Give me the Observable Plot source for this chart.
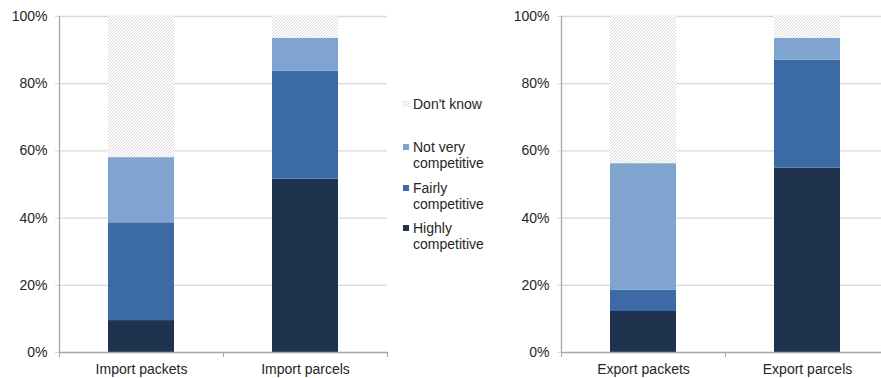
<!DOCTYPE html>
<html>
<head>
<meta charset="utf-8">
<script src="https://cdn.jsdelivr.net/npm/d3@7"></script>
<script src="https://cdn.jsdelivr.net/npm/@observablehq/plot@0.6"></script>
<style>
  html, body { margin: 0; padding: 0; background: #fff; }
  #chart { position: relative; width: 881px; height: 378px; overflow: hidden;
           font-family: "Liberation Sans", Arial, sans-serif; color: #262626; }
  .panel { position: absolute; top: 0; width: 400px; height: 378px; }
  .panel svg { max-width: none !important; display: block; }
  #legend { position: absolute; left: 403px; top: 0; font-size: 14px; line-height: 16px; }
  .item { position: absolute; left: 0; white-space: nowrap; }
  .sw { position: absolute; left: 0; top: 5px; width: 6px; height: 6px; }
  .lbl { position: absolute; left: 10px; top: 0; }
</style>
</head>
<body>
<div id="chart">
  <div id="left" class="panel" style="left:0px"></div>
  <div id="right" class="panel" style="left:502px"></div>
  <div id="legend"></div>
</div>
<script>
// Response levels, stacked bottom to top
const levels = ["Highly competitive", "Fairly competitive", "Not very competitive", "Don't know"];
const levelColors = ["#1f334f", "#3c6aa5", "#7fa4d0"];

// Import panel (shares in %, same order as levels)
const importCategories = ["Import packets", "Import parcels"];
const importPackets = [9.5, 29.1, 19.4, 42.0];
const importParcels = [51.6, 32.1, 9.8, 6.5];

// Export panel
const exportCategories = ["Export packets", "Export parcels"];
const exportPackets = [12.2, 6.3, 37.7, 43.8];
const exportParcels = [54.9, 32.1, 6.5, 6.5];

const yTicks = [0, 0.2, 0.4, 0.6, 0.8, 1];
const gridColor = "#d9d9d9";
const axisColor = "#a6a6a6";
const hatchColor = "#d2d2d2";

function panel(categories, series, patternId) {
  const rows = [];
  categories.forEach((cat, i) => {
    series[i].forEach((v, j) => rows.push({cat, level: levels[j], share: v / 100}));
  });

  // category separator ticks below the baseline
  const bandTicks = (index, scales, values, dims) => {
    const g = d3.create("svg:g").attr("stroke", axisColor);
    const {width, height, marginLeft, marginRight, marginBottom} = dims;
    const y0 = height - marginBottom;
    const step = (width - marginLeft - marginRight) / categories.length;
    for (let i = 0; i <= categories.length; ++i) {
      const x = marginLeft + i * step + 0.5;
      g.append("line").attr("x1", x).attr("x2", x).attr("y1", y0).attr("y2", y0 + 5);
    }
    return g.node();
  };

  const svg = Plot.plot({
    width: 400,
    height: 378,
    marginLeft: 59,
    marginRight: 13,
    marginTop: 16,
    marginBottom: 26,
    style: {fontFamily: "'Liberation Sans', Arial, sans-serif", fontSize: "14px", color: "#262626", background: "transparent"},
    x: {domain: categories, paddingInner: 0.6, paddingOuter: 0.3, label: null},
    y: {domain: [0, 1], label: null},
    color: {domain: levels, range: [...levelColors, `url(#${patternId})`]},
    marks: [
      Plot.ruleY(yTicks.slice(1), {stroke: gridColor, strokeWidth: 1.3}),
      Plot.barY(rows, {x: "cat", y: "share", fill: "level"}),
      Plot.ruleY([0], {stroke: axisColor, strokeWidth: 1.3}),
      Plot.frame({anchor: "left", stroke: axisColor, strokeWidth: 1.3}),
      bandTicks,
      Plot.axisY({ticks: yTicks, tickFormat: d3.format(".0%"), tickSize: 4, tickPadding: 8, stroke: gridColor, fill: "#262626"}),
      Plot.axisX({tickSize: 0, tickPadding: 12, fill: "#262626"})
    ]
  });

  // fine diagonal hatch used for "Don't know"
  const defs = d3.select(svg).insert("defs", ":first-child");
  const pat = defs.append("pattern")
    .attr("id", patternId)
    .attr("patternUnits", "userSpaceOnUse")
    .attr("width", 3).attr("height", 3);
  pat.append("rect").attr("width", 3).attr("height", 3).attr("fill", "#fff");
  pat.append("path")
    .attr("d", "M-1,1 l2,-2 M0,3 l3,-3 M2,4 l2,-2")
    .attr("stroke", hatchColor).attr("stroke-width", 0.9);
  return svg;
}

document.getElementById("left").append(panel(importCategories, [importPackets, importParcels], "hatch-import"));
document.getElementById("right").append(panel(exportCategories, [exportPackets, exportParcels], "hatch-export"));

// Legend, top entry is the top of the stack
const legendItems = [
  {level: "Don't know", lines: ["Don't know"], top: 96},
  {level: "Not very competitive", lines: ["Not very", "competitive"], top: 139},
  {level: "Fairly competitive", lines: ["Fairly", "competitive"], top: 180},
  {level: "Highly competitive", lines: ["Highly", "competitive"], top: 220}
];
const legend = d3.select("#legend");
legendItems.forEach(d => {
  const item = legend.append("div").attr("class", "item").style("top", d.top + "px");
  const i = levels.indexOf(d.level);
  const sw = item.append("div").attr("class", "sw");
  if (i < levelColors.length) sw.style("background", levelColors[i]);
  else sw.style("background", `repeating-linear-gradient(-45deg, ${hatchColor} 0 1px, #fff 1px 2.2px)`);
  item.append("div").attr("class", "lbl").html(d.lines.join("<br>"));
});
</script>
</body>
</html>
